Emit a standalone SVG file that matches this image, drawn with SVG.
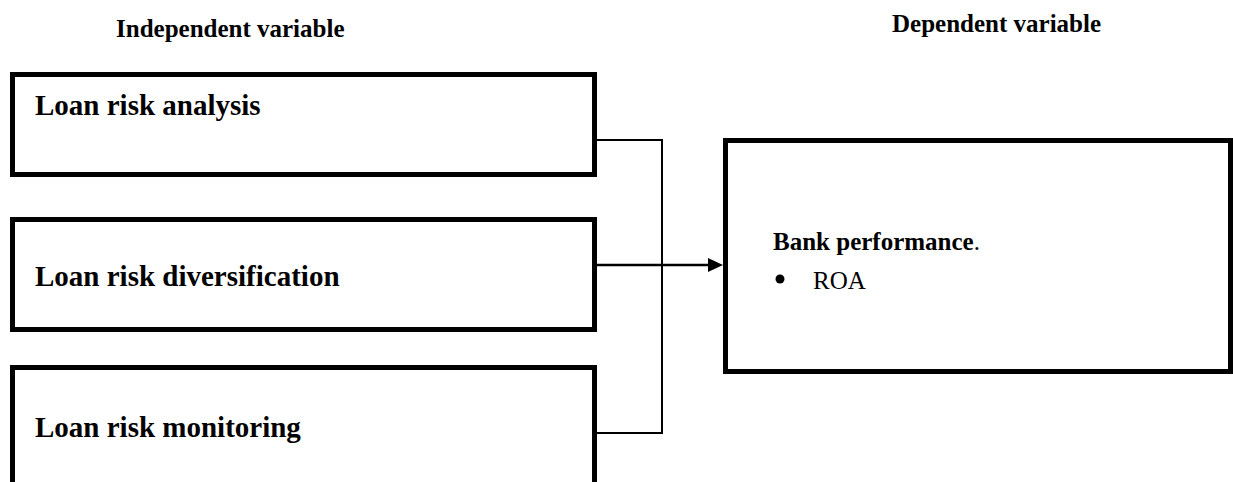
<svg xmlns="http://www.w3.org/2000/svg" width="1233" height="482" viewBox="0 0 1233 482">
<defs>
<style>
.box{fill:#fff;stroke:#000;stroke-width:5}
.lbl{font-family:"Liberation Serif","Times New Roman",serif;font-weight:bold;font-size:29px;fill:#000}
.hdr{font-family:"Liberation Serif","Times New Roman",serif;font-weight:bold;font-size:25px;fill:#000}
.txt{font-family:"Liberation Serif","Times New Roman",serif;font-weight:normal;font-size:25px;fill:#000}
.con{fill:none;stroke:#000;stroke-width:2}
</style>
</defs>
<rect width="1233" height="482" fill="#fff"/>
<text class="hdr" x="116" y="37">Independent variable</text>
<text class="hdr" x="892" y="32">Dependent variable</text>
<g id="connectors">
<path class="con" d="M597,140 H662 V433 H597"/>
<line x1="592" y1="265" x2="710" y2="265" stroke="#000" stroke-width="2.5"/>
<path d="M708,258 L723,265 L708,272 Z" fill="#000"/>
</g>
<g id="loan-risk-analysis">
<rect class="box" x="12.5" y="74.5" width="582" height="100"/>
<text class="lbl" x="35" y="115">Loan risk analysis</text>
</g>
<g id="loan-risk-diversification">
<rect class="box" x="12.5" y="219.5" width="582" height="110"/>
<text class="lbl" x="35" y="286">Loan risk diversification</text>
</g>
<g id="loan-risk-monitoring">
<rect class="box" x="12.5" y="367.5" width="582" height="130"/>
<text class="lbl" x="35" y="437">Loan risk monitoring</text>
</g>
<g id="bank-performance">
<rect class="box" x="725.5" y="140.5" width="505" height="231"/>
<text class="hdr" x="773" y="250">Bank performance<tspan class="txt">.</tspan></text>
<circle cx="780" cy="279" r="4.5" fill="#000"/>
<text class="txt" x="813" y="289">ROA</text>
</g>
</svg>
